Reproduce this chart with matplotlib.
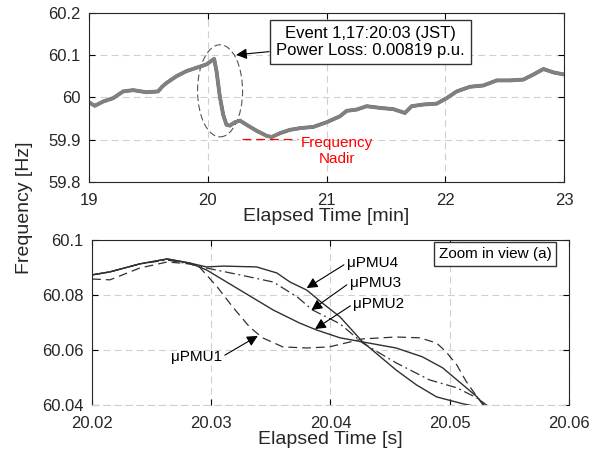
import matplotlib
matplotlib.use("Agg")
import matplotlib.pyplot as plt
from matplotlib.patches import Ellipse
from matplotlib.ticker import FuncFormatter

plt.rcParams["font.family"] = ["Liberation Sans", "DejaVu Sans"]

# (a) frequency over the whole window, minutes
t_min = [19.000, 19.048, 19.118, 19.202, 19.287, 19.371, 19.483, 19.581, 19.618,
         19.652, 19.736, 19.820, 19.904, 19.989, 20.053, 20.073, 20.101, 20.129,
         20.157, 20.185, 20.228, 20.270, 20.326, 20.410, 20.494, 20.537, 20.607,
         20.691, 20.775, 20.888, 21.000, 21.112, 21.169, 21.253, 21.337, 21.449,
         21.562, 21.660, 21.716, 21.815, 21.927, 22.011, 22.096, 22.208, 22.320,
         22.433, 22.545, 22.657, 22.742, 22.826, 22.910, 23.000]
f_gray = [59.988, 59.980, 59.990, 59.998, 60.014, 60.017, 60.012, 60.014, 60.026,
          60.034, 60.050, 60.062, 60.070, 60.078, 60.091, 60.062, 60.002, 59.959,
          59.935, 59.933, 59.941, 59.945, 59.935, 59.921, 59.909, 59.906, 59.915,
          59.923, 59.927, 59.930, 59.941, 59.955, 59.968, 59.971, 59.979, 59.975,
          59.972, 59.963, 59.979, 59.983, 59.985, 59.998, 60.014, 60.025, 60.028,
          60.040, 60.040, 60.042, 60.054, 60.067, 60.059, 60.054]
f_blue = f_gray
f_red = f_gray
nadir = 59.902

# (b) zoom in view, seconds
t1 = [20.0200, 20.0215, 20.0240, 20.0263, 20.0282, 20.0290, 20.0305, 20.0318,
      20.0332, 20.0343, 20.0360, 20.0380, 20.0399, 20.0427, 20.0455, 20.0475,
      20.0489, 20.0497, 20.0506, 20.0514, 20.0523, 20.0529, 20.0533]
f1 = [60.0858, 60.0855, 60.0898, 60.0920, 60.0913, 60.0902, 60.0829, 60.0756,
      60.0684, 60.0644, 60.0611, 60.0607, 60.0611, 60.0640, 60.0647, 60.0644,
      60.0625, 60.0593, 60.0545, 60.0484, 60.0429, 60.0400, 60.0382]
t2 = [20.0200, 20.0215, 20.0240, 20.0263, 20.0282, 20.0296, 20.0324, 20.0352,
      20.0374, 20.0388, 20.0408, 20.0427, 20.0455, 20.0477, 20.0494, 20.0511,
      20.0523, 20.0528, 20.0533]
f2 = [60.0873, 60.0884, 60.0913, 60.0931, 60.0916, 60.0891, 60.0818, 60.0745,
      60.0698, 60.0673, 60.0644, 60.0629, 60.0607, 60.0575, 60.0535, 60.0473,
      60.0429, 60.0400, 60.0382]
t3 = [20.0200, 20.0215, 20.0240, 20.0263, 20.0282, 20.0296, 20.0324, 20.0352,
      20.0372, 20.0385, 20.0408, 20.0427, 20.0455, 20.0483, 20.0506, 20.0523,
      20.0533]
f3 = [60.0873, 60.0884, 60.0913, 60.0927, 60.0913, 60.0898, 60.0873, 60.0847,
      60.0793, 60.0745, 60.0695, 60.0625, 60.0553, 60.0491, 60.0462, 60.0425,
      60.0393]
t4 = [20.0200, 20.0215, 20.0240, 20.0263, 20.0282, 20.0296, 20.0310, 20.0338,
      20.0355, 20.0366, 20.0380, 20.0393, 20.0408, 20.0427, 20.0455, 20.0472,
      20.0489, 20.0511, 20.0523]
f4 = [60.0873, 60.0884, 60.0913, 60.0931, 60.0916, 60.0902, 60.0905, 60.0902,
      60.0880, 60.0847, 60.0818, 60.0771, 60.0720, 60.0629, 60.0527, 60.0473,
      60.0429, 60.0404, 60.0393]

grid_kw = dict(color="#cfcfcf", linestyle=(0, (6, 4)), linewidth=0.8)
fmt = FuncFormatter(lambda v, p: "{:g}".format(round(v, 4)))

fig = plt.figure(figsize=(6.02, 4.58), dpi=100)

# ---- top plot
ax1 = fig.add_axes([0.148, 0.603, 0.789, 0.369])
ax1.plot(t_min, f_blue, color="#0072BD", lw=2.2)
ax1.plot(t_min, f_red, color="#e8261c", lw=2.2)
ax1.plot(t_min, f_gray, color="#808080", lw=2.8)
ax1.plot([20.288, 20.76], [nadir, nadir], color="red", lw=0.9, linestyle=(0, (7, 4)))
ax1.text(21.088, 59.873, "Frequency\nNadir", color="red", fontsize=11,
         ha="center", va="center", linespacing=1.1)
ax1.add_patch(Ellipse((20.103, 60.0154), 0.379, 0.218, fill=False,
                      edgecolor="#555555", lw=0.8, linestyle=(0, (6, 3))))
ax1.annotate("Event 1,17:20:03 (JST)\nPower Loss: 0.00819 p.u.",
             xy=(20.238, 60.1006), xytext=(0.592, 0.828), textcoords="axes fraction",
             ha="center", va="center", fontsize=12, linespacing=1.15,
             bbox=dict(boxstyle="square,pad=0.38", fc="white", ec="#333333", lw=1),
             arrowprops=dict(arrowstyle="-|>", color="k", lw=0.8,
                             mutation_scale=16, shrinkA=0, shrinkB=0))
ax1.set_xlim(19, 23)
ax1.set_ylim(59.8, 60.2)
ax1.set_xticks([19, 20, 21, 22, 23])
ax1.set_yticks([59.8, 59.9, 60, 60.1, 60.2])
ax1.yaxis.set_major_formatter(fmt)
ax1.grid(True, **grid_kw)
ax1.set_axisbelow(True)
ax1.set_xlabel("Elapsed Time [min]", fontsize=14, color="#262626", labelpad=0)

# ---- bottom plot
ax2 = fig.add_axes([0.153, 0.116, 0.792, 0.360])
ax2.plot(t1, f1, color="#303030", lw=0.9, linestyle=(0, (7, 4)))
ax2.plot(t2, f2, color="#303030", lw=1.0)
ax2.plot(t3, f3, color="#303030", lw=0.9, linestyle=(0, (8, 3, 1.5, 3)))
ax2.plot(t4, f4, color="#303030", lw=1.0)

arrow_kw = dict(arrowstyle="-|>", color="k", lw=0.8, mutation_scale=16,
                shrinkA=0, shrinkB=0)
labels = [("μPMU4", (20.0380, 60.0825), (20.04136, 60.0916), "left"),
          ("μPMU3", (20.0384, 60.0745), (20.0416, 60.0844), "left"),
          ("μPMU2", (20.0387, 60.0676), (20.0419, 60.0767), "left"),
          ("μPMU1", (20.0339, 60.0651), (20.0309, 60.0575), "right")]
for name, tip, pos, side in labels:
    ax2.annotate(name, xy=tip, xytext=pos, ha=side, va="center", fontsize=11,
                 arrowprops=dict(relpos=(0 if side == "left" else 1, 0.5), **arrow_kw))

ax2.text(0.845, 0.915, "Zoom in view (a)", transform=ax2.transAxes, fontsize=11,
         ha="center", va="center",
         bbox=dict(boxstyle="square,pad=0.3", fc="white", ec="#333333", lw=1))
ax2.set_xlim(20.02, 20.06)
ax2.set_ylim(60.04, 60.1)
ax2.set_xticks([20.02, 20.03, 20.04, 20.05, 20.06])
ax2.set_yticks([60.04, 60.06, 60.08, 60.1])
ax2.yaxis.set_major_formatter(fmt)
ax2.xaxis.set_major_formatter(fmt)
ax2.grid(True, **grid_kw)
ax2.set_axisbelow(True)
ax2.spines["bottom"].set_color("#cfcfcf")
ax2.spines["bottom"].set_linestyle((0, (6, 4)))
ax2.set_xlabel("Elapsed Time [s]", fontsize=14, color="#262626", labelpad=0)

for ax in (ax1, ax2):
    ax.tick_params(direction="in", top=True, right=True, labelsize=12,
                   labelcolor="#262626", length=4, width=0.8)
    ax.tick_params(axis="x", pad=8)
    ax.tick_params(axis="y", pad=6)
    for s in ("top", "left", "right"):
        ax.spines[s].set_color("#262626")
    if ax is ax1:
        ax.spines["bottom"].set_color("#262626")

fig.text(0.04, 0.546, "Frequency [Hz]", rotation=90, ha="center", va="center",
         fontsize=14, color="#262626")

fig.savefig("out.png", dpi=100)
